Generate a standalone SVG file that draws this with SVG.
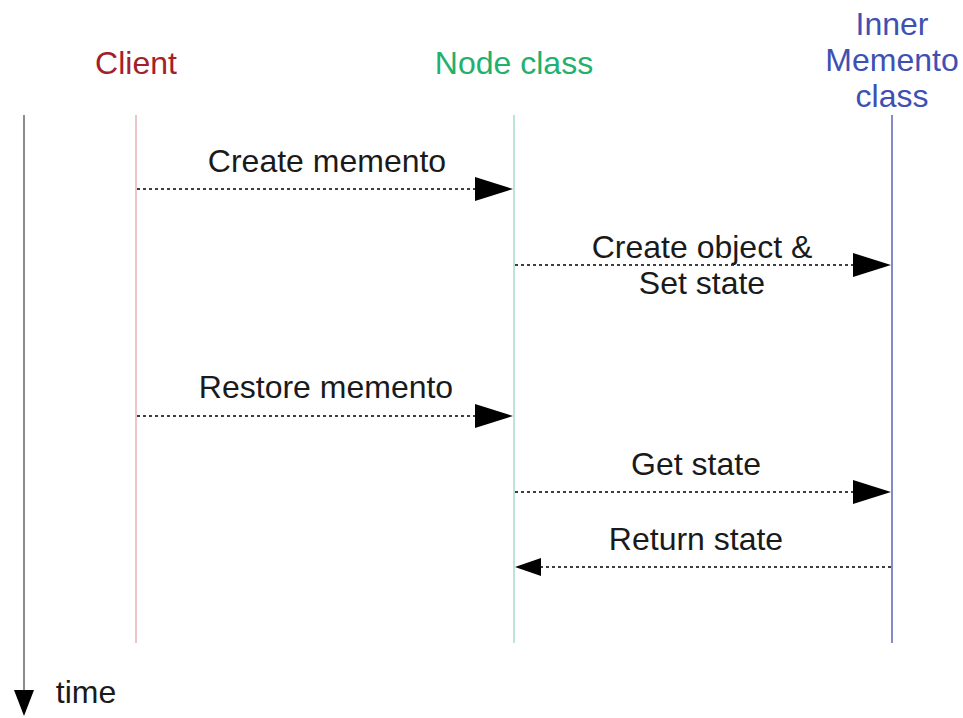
<svg xmlns="http://www.w3.org/2000/svg" width="963" height="718" viewBox="0 0 963 718">
<style>
text{font-family:"Liberation Sans",Arial,sans-serif;font-size:32px;text-anchor:middle}
.msg{fill:#1a1a1a}
.dot{stroke:#000;stroke-width:1.5;stroke-dasharray:3 3;fill:none}
.head{fill:#000}
</style>
<rect width="963" height="718" fill="#fff"/>
<g id="time">
<line x1="24" y1="115" x2="24" y2="700" stroke="#666" stroke-width="1.5"/>
<polygon points="14,690 34,690 24,716" fill="#000"/>
<text x="86" y="703" class="msg">time</text>
</g>
<g id="client">
<text x="136" y="74" fill="#a3202c">Client</text>
<line x1="136" y1="115" x2="136" y2="643" stroke="#e6b3b8" stroke-width="1.5"/>
</g>
<g id="node">
<text x="514" y="74" fill="#21b06e">Node class</text>
<line x1="514" y1="115" x2="514" y2="643" stroke="#a6dcc4" stroke-width="1.5"/>
</g>
<g id="inner">
<text x="892" y="35" fill="#4050b2">Inner</text>
<text x="892" y="71" fill="#4050b2">Memento</text>
<text x="892" y="107" fill="#4050b2">class</text>
<line x1="892" y1="115" x2="892" y2="643" stroke="#5a66b4" stroke-width="1.5"/>
</g>
<g id="connectors">
<line class="dot" x1="137" y1="189" x2="476" y2="189"/>
<polygon class="head" points="475,177 513,189 475,201"/>
<text x="327" y="172" class="msg">Create memento</text>
<line class="dot" x1="515" y1="265" x2="854" y2="265"/>
<polygon class="head" points="853,253 891,265 853,277"/>
<text x="702" y="258" class="msg">Create object &amp;</text>
<text x="702" y="294" class="msg">Set state</text>
<line class="dot" x1="137" y1="416" x2="476" y2="416"/>
<polygon class="head" points="475,404 513,416 475,428"/>
<text x="326" y="398" class="msg">Restore memento</text>
<line class="dot" x1="515" y1="492" x2="854" y2="492"/>
<polygon class="head" points="853,480 891,492 853,504"/>
<text x="696" y="475" class="msg">Get state</text>
<line class="dot" x1="540" y1="567" x2="891" y2="567"/>
<polygon class="head" points="541,558 515,567 541,576"/>
<text x="696" y="550" class="msg">Return state</text>
</g>
</svg>
